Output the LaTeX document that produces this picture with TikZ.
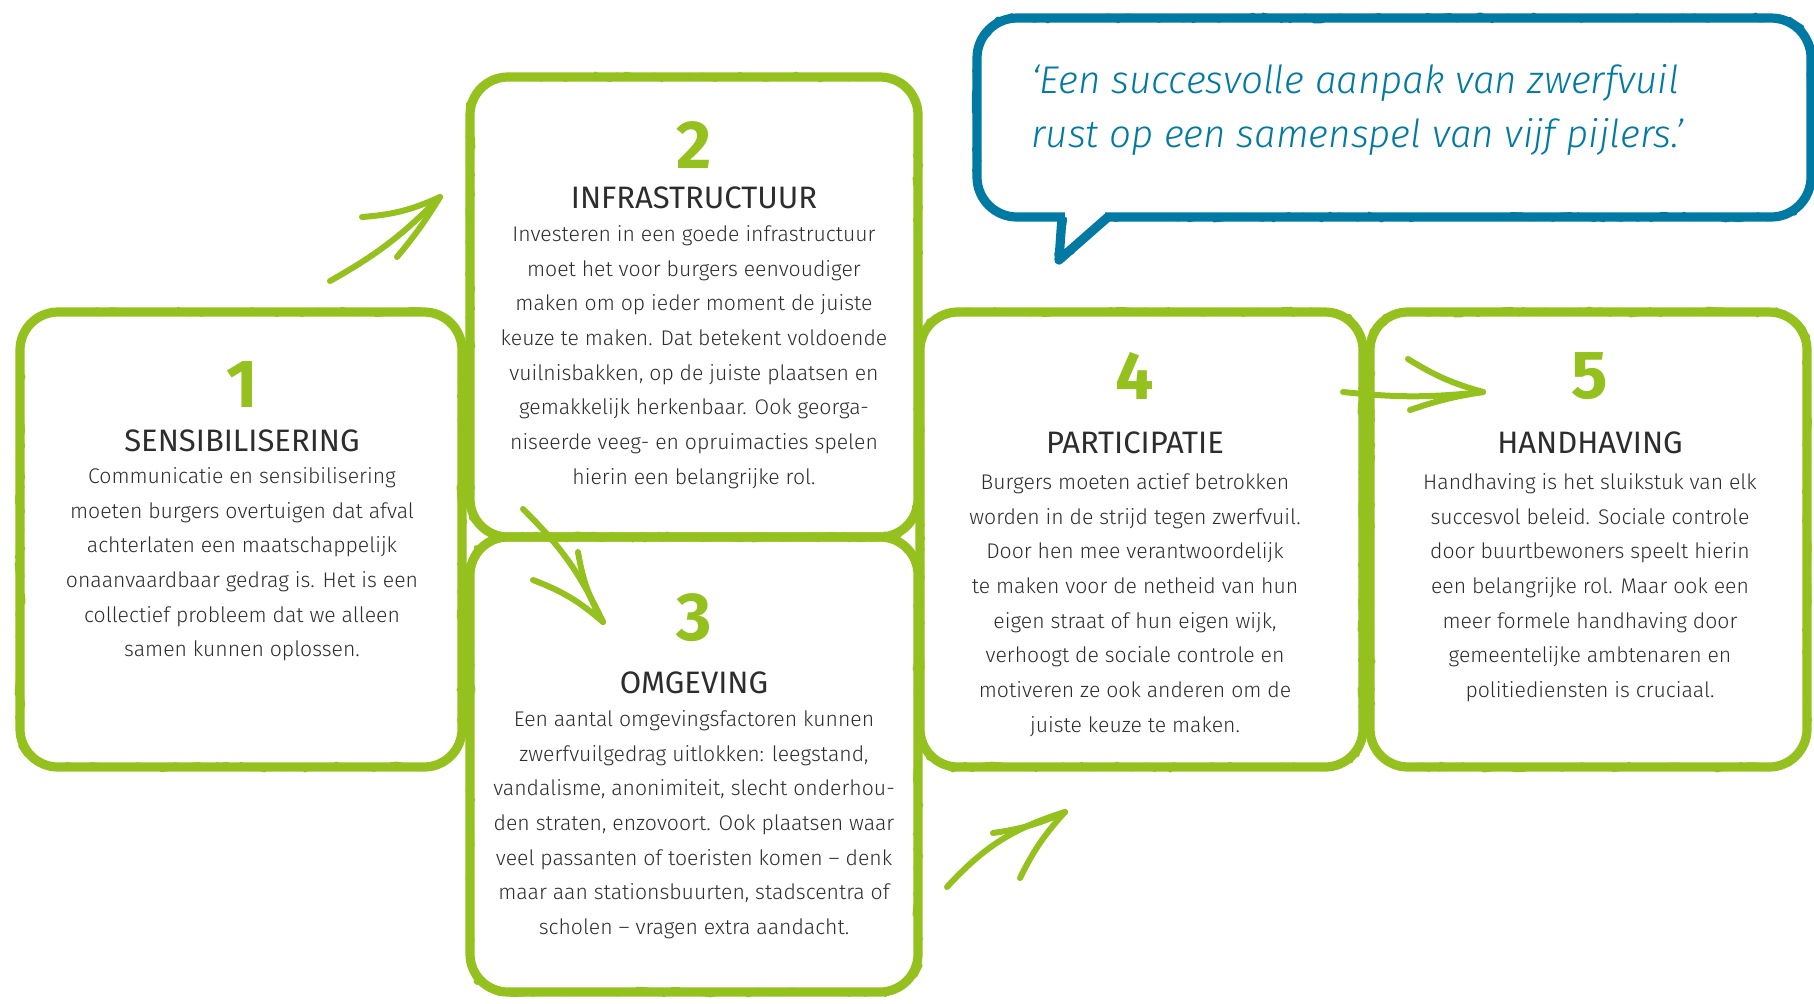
\documentclass[tikz,border=0pt]{standalone}
\usepackage{fontspec}
\setmainfont{Fira Sans}[UprightFont=* Light, BoldFont=* Bold, ItalicFont=* Light Italic]
\newfontfamily\headfont{Fira Sans}
\usepackage{tikz}
\usetikzlibrary{
    decorations.pathmorphing
}
\definecolor{leafGreen}{RGB}{149, 193, 31}
\definecolor{quoteBlue}{RGB}{0, 121, 163}
\definecolor{inkGrey}{RGB}{45, 45, 45}

\begin{document}
\begin{tikzpicture}[x=0.5pt, y=-0.5pt,
    brush/.style={line width=4.6pt, line join=round,
        postaction={draw, sharp corners, decorate, line width=1.5pt,
            decoration={random steps, segment length=3pt, amplitude=2pt}}},
    panel/.style={brush, draw=leafGreen, rounded corners=19pt},
    bubble/.style={brush, draw=quoteBlue},
    num/.style={text=leafGreen, font=\bfseries\fontsize{34}{34}\selectfont, inner sep=0pt},
    head/.style={text=inkGrey, font=\headfont\fontsize{15.5}{16}\selectfont, inner sep=0pt},
    body/.style={text=inkGrey, align=center, anchor=north, inner sep=0pt,
        font=\fontsize{10.6}{17.35}\selectfont},
    quote/.style={text=quoteBlue, align=left, anchor=north west, inner sep=0pt,
        font=\itshape\fontsize{19.3}{27}\selectfont},
    sketch/.style={draw=leafGreen, line width=3pt, line cap=round, line join=round}]
    \pgfmathsetseed{7}
    \useasboundingbox (0,0) rectangle (1814,1003);

    % the five panels
    \draw[panel] (20,312) rectangle (462,767);
    \draw[panel] (470,77) rectangle (918,537);
    \draw[panel] (470,537) rectangle (918,992);
    \draw[panel] (920,312) rectangle (1363,767);
    \draw[panel] (1370,312) rectangle (1807,767);

    % speech bubble
    \draw[bubble, rounded corners=20pt] (977,18) rectangle (1811,217);
    \fill[white] (1065,209) rectangle (1105,225);
    \draw[bubble] (1062,217) -- (1059,260) -- (1108,217);
    \node[quote] (q) at (1031,64) {‘Een succesvolle aanpak van zwerfvuil\\
        rust op een samenspel van vijf pijlers.’};

    % 1
    \node[num] (n1) at (242,385) {1};
    \node[head] (h1) at (242,441) {SENSIBILISERING};
    \node[body] (t1) at (242,467) {Communicatie en sensibilisering\\
        moeten burgers overtuigen dat afval\\
        achterlaten een maatschappelijk\\
        onaanvaardbaar gedrag is. Het is een\\
        collectief probleem dat we alleen\\
        samen kunnen oplossen.};

    % 2
    \node[num] (n2) at (694,145) {2};
    \node[head] (h2) at (694,198) {INFRASTRUCTUUR};
    \node[body] (t2) at (694,225) {Investeren in een goede infrastructuur\\
        moet het voor burgers eenvoudiger\\
        maken om op ieder moment de juiste\\
        keuze te maken. Dat betekent voldoende\\
        vuilnisbakken, op de juiste plaatsen en\\
        gemakkelijk herkenbaar. Ook georga-\\
        niseerde veeg- en opruimacties spelen\\
        hierin een belangrijke rol.};

    % 3
    \node[num] (n3) at (694,618) {3};
    \node[head] (h3) at (694,683) {OMGEVING};
    \node[body] (t3) at (694,710) {Een aantal omgevingsfactoren kunnen\\
        zwerfvuilgedrag uitlokken: leegstand,\\
        vandalisme, anonimiteit, slecht onderhou-\\
        den straten, enzovoort. Ook plaatsen waar\\
        veel passanten of toeristen komen – denk\\
        maar aan stationsbuurten, stadscentra of\\
        scholen – vragen extra aandacht.};

    % 4
    \node[num] (n4) at (1135,376) {4};
    \node[head] (h4) at (1135,443) {PARTICIPATIE};
    \node[body] (t4) at (1135,473) {Burgers moeten actief betrokken\\
        worden in de strijd tegen zwerfvuil.\\
        Door hen mee verantwoordelijk\\
        te maken voor de netheid van hun\\
        eigen straat of hun eigen wijk,\\
        verhoogt de sociale controle en\\
        motiveren ze ook anderen om de\\
        juiste keuze te maken.};

    % 5
    \node[num] (n5) at (1590,376) {5};
    \node[head] (h5) at (1590,443) {HANDHAVING};
    \node[body] (t5) at (1590,473) {Handhaving is het sluikstuk van elk\\
        succesvol beleid. Sociale controle\\
        door buurtbewoners speelt hierin\\
        een belangrijke rol. Maar ook een\\
        meer formele handhaving door\\
        gemeentelijke ambtenaren en\\
        politiediensten is cruciaal.};

    % hand drawn arrows
    \coordinate (a1s) at (330,281);
    \coordinate (a1t) at (440,197);
    \coordinate (a1u) at (362,217);
    \coordinate (a1l) at (397,257);
    \draw[sketch] (a1s) to[bend right=8] (a1t);
    \draw[sketch] (a1u) to[bend right=10] (a1t) to[bend left=4] (a1l);

    \coordinate (a2s) at (523,509);
    \coordinate (a2t) at (603,622);
    \coordinate (a2u) at (578,552);
    \coordinate (a2l) at (533,580);
    \draw[sketch] (a2s) to[bend left=10] (a2t);
    \draw[sketch] (a2u) to[bend right=10] (a2t) to[bend right=10] (a2l);

    \coordinate (a3s) at (947,887);
    \coordinate (a3t) at (1065,812);
    \coordinate (a3u) at (993,833);
    \coordinate (a3l) at (1020,878);
    \draw[sketch] (a3s) to[bend left=15] (a3t);
    \draw[sketch] (a3u) to[bend right=8] (a3t) to[bend right=8] (a3l);

    \coordinate (a4s) at (1343,392);
    \coordinate (a4t) at (1483,392);
    \coordinate (a4u) at (1408,359);
    \coordinate (a4l) at (1410,410);
    \draw[sketch] (a4s) to[bend right=6] (a4t);
    \draw[sketch] (a4u) to[bend right=8] (a4t) to[bend right=5] (a4l);
\end{tikzpicture}
\end{document}
